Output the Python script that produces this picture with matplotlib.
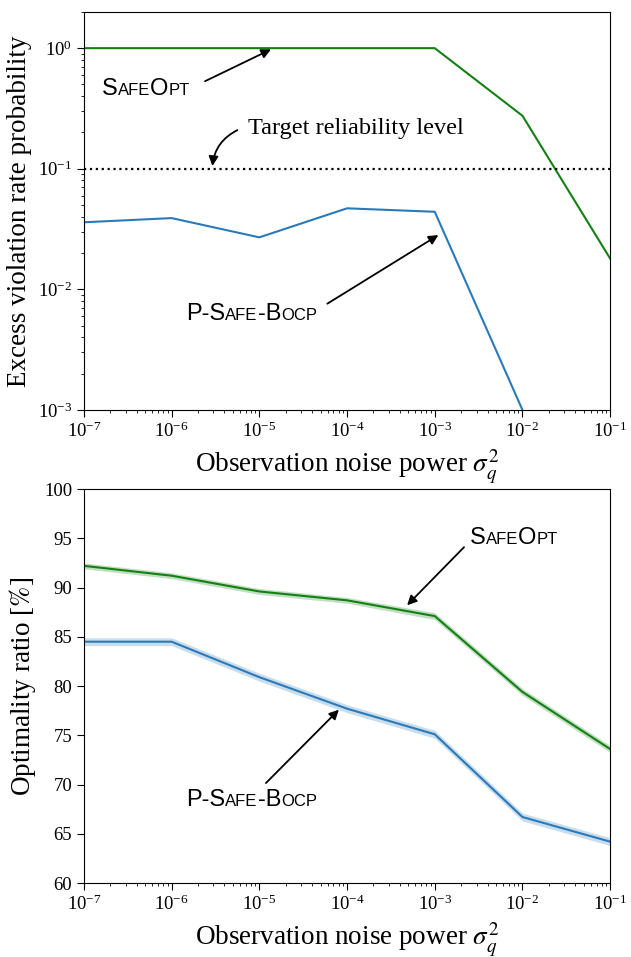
import numpy as np
import matplotlib
matplotlib.use("Agg")
import matplotlib.pyplot as plt
from matplotlib.offsetbox import TextArea, HPacker, AnnotationBbox

plt.rcParams["font.family"] = ["Liberation Serif", "DejaVu Serif"]
plt.rcParams["mathtext.fontset"] = "stix"

noise = [1e-7, 1e-6, 1e-5, 1e-4, 1e-3, 1e-2, 1e-1]

# excess violation rate probability
viol_safeopt = [1.0, 1.0, 1.0, 1.0, 1.0, 0.275, 0.018]
viol_psafe = [0.036, 0.039, 0.027, 0.047, 0.044, 0.001, 0.0]
target_level = 0.1

# optimality ratio [%]
opt_safeopt = [92.2, 91.2, 89.6, 88.7, 87.1, 79.4, 73.6]
opt_safeopt_err = [0.3, 0.3, 0.3, 0.3, 0.35, 0.35, 0.35]
opt_psafe = [84.5, 84.5, 80.9, 77.7, 75.1, 66.7, 64.2]
opt_psafe_err = [0.4, 0.4, 0.4, 0.4, 0.4, 0.4, 0.4]

GREEN = "#138013"
BLUE = "#2a7ab9"


def smallcaps(ax, parts, xy, big=17, small=12):
    boxes = []
    for txt, is_big in parts:
        boxes.append(TextArea(txt, textprops=dict(fontsize=big if is_big else small,
                                                  family="Liberation Sans")))
    pack = HPacker(children=boxes, align="baseline", pad=0, sep=0)
    ab = AnnotationBbox(pack, xy, xycoords="data", frameon=False,
                        box_alignment=(0, 0.5), pad=0)
    ax.add_artist(ab)


SAFEOPT = [("S", 1), ("AFE", 0), ("O", 1), ("PT", 0)]
PSAFE = [("P-S", 1), ("AFE", 0), ("-B", 1), ("OCP", 0)]
arrow = dict(arrowstyle="-|>", color="black", lw=1.3, mutation_scale=14)

fig = plt.figure(figsize=(6.31, 9.57), dpi=100)
ax1 = fig.add_axes([0.133, 0.5716, 0.834, 0.416])
ax2 = fig.add_axes([0.133, 0.0773, 0.834, 0.4117])

# top panel
ax1.plot(noise, viol_safeopt, color=GREEN, lw=1.5)
ax1.plot(noise, viol_psafe, color=BLUE, lw=1.5)
ax1.axhline(target_level, color="black", ls=":", lw=1.6)
ax1.set_xscale("log")
ax1.set_yscale("log", nonpositive="mask")
ax1.set_xlim(1e-7, 1e-1)
ax1.set_ylim(1e-3, 2)
ax1.set_xlabel(r"Observation noise power $\sigma_q^2$", fontsize=19.5)
ax1.set_ylabel("Excess violation rate probability", fontsize=19.5)

smallcaps(ax1, SAFEOPT, (1.6e-7, 0.46))
ax1.annotate("", xy=(1.45e-5, 1.0), xytext=(2.25e-6, 0.52), arrowprops=arrow)
ax1.text(7.4e-6, 0.214, "Target reliability level", fontsize=17.5, va="center")
ax1.annotate("", xy=(2.9e-6, 0.1), xytext=(6.0e-6, 0.214),
             arrowprops=dict(arrow, connectionstyle="arc3,rad=0.3"))
smallcaps(ax1, PSAFE, (1.46e-6, 0.0063))
ax1.annotate("", xy=(1.17e-3, 0.029), xytext=(5.6e-5, 0.0074), arrowprops=arrow)

# bottom panel
ax2.plot(noise, opt_safeopt, color=GREEN, lw=1.5)
ax2.fill_between(noise, np.array(opt_safeopt) - opt_safeopt_err,
                 np.array(opt_safeopt) + opt_safeopt_err, color=GREEN, alpha=0.25, lw=0)
ax2.plot(noise, opt_psafe, color=BLUE, lw=1.5)
ax2.fill_between(noise, np.array(opt_psafe) - opt_psafe_err,
                 np.array(opt_psafe) + opt_psafe_err, color=BLUE, alpha=0.25, lw=0)
ax2.set_xscale("log")
ax2.set_xlim(1e-7, 1e-1)
ax2.set_ylim(60, 100)
ax2.set_xlabel(r"Observation noise power $\sigma_q^2$", fontsize=19.5)
ax2.set_ylabel(r"Optimality ratio [$\%$]", fontsize=19.5)

smallcaps(ax2, SAFEOPT, (2.53e-3, 95.0))
ax2.annotate("", xy=(4.6e-4, 88.0), xytext=(2.27e-3, 94.3), arrowprops=arrow)
smallcaps(ax2, PSAFE, (1.46e-6, 68.4))
ax2.annotate("", xy=(8.5e-5, 77.8), xytext=(1.13e-5, 69.95), arrowprops=arrow)

for ax in (ax1, ax2):
    ax.tick_params(labelsize=13.5)
    ax.tick_params(which="major", length=5)

fig.savefig("out.png", dpi=100)
